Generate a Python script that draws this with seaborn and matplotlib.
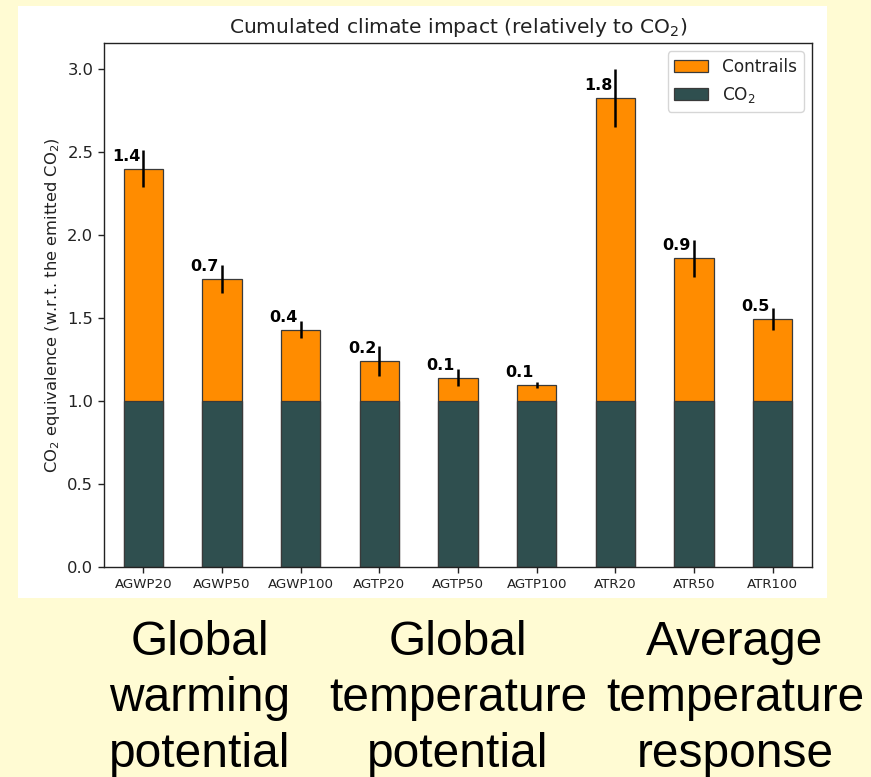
import matplotlib
matplotlib.use("Agg")
import matplotlib.pyplot as plt
from matplotlib.patches import Rectangle, Patch
import numpy as np
import seaborn as sns

# Metrics and their contrail contributions (CO2 is the unit reference)
categories = ["AGWP20", "AGWP50", "AGWP100", "AGTP20", "AGTP50",
              "AGTP100", "ATR20", "ATR50", "ATR100"]
co2_values = [1.0, 1.0, 1.0, 1.0, 1.0, 1.0, 1.0, 1.0, 1.0]
contrail_values = [1.40, 0.735, 0.43, 0.24, 0.14, 0.096, 1.825, 0.86, 0.494]
contrail_errors = [0.11, 0.085, 0.05, 0.09, 0.05, 0.02, 0.175, 0.11, 0.065]

group_centers = [200, 458, 735]
group_lines = [["Global", "warming", "potential"],
               ["Global", "temperature", "potential"],
               ["Average", "temperature", "response"]]

W, H = 871, 777
fig = plt.figure(figsize=(W / 100, H / 100), dpi=100, facecolor="#FFFBD3")

# white panel holding the chart, kept behind the axes
fig.patches.append(Rectangle((18 / W, 1 - 598 / H), 809 / W, 592 / H,
                             transform=fig.transFigure, facecolor="white",
                             edgecolor="none", zorder=-10))

ax = fig.add_axes([104 / W, 1 - 567 / H, 708 / W, 524 / H])
ax.set_zorder(1)
ax.set_facecolor("white")

totals = np.array(co2_values) + np.array(contrail_values)
orange = "#FF8C00"
slate = "#2F4F4F"
edge = "#3a3a3a"

sns.barplot(x=categories, y=totals, color=orange, saturation=1, width=0.5,
            edgecolor=edge, linewidth=0.9, ax=ax)
sns.barplot(x=categories, y=co2_values, color=slate, saturation=1, width=0.5,
            edgecolor=edge, linewidth=0.9, ax=ax)

xpos = np.arange(len(categories))
ax.errorbar(xpos, totals, yerr=contrail_errors, fmt="none", ecolor="black",
            elinewidth=1.8, capsize=0, zorder=5)

for x, tot, val in zip(xpos, totals, contrail_values):
    ax.text(x - 0.04, tot + 0.03, f"{val:.1f}", ha="right", va="bottom",
            fontweight="bold", fontsize=11.5, color="black")

ax.set_xlim(-0.5, len(categories) - 0.5)
ax.set_ylim(0, 3.157)
ax.set_yticks([0.0, 0.5, 1.0, 1.5, 2.0, 2.5, 3.0])
ax.tick_params(axis="y", labelsize=11.8, length=4.2, width=1, colors="#222222")
ax.tick_params(axis="x", labelsize=9.6, length=4.2, width=1, colors="#222222")
for s in ax.spines.values():
    s.set_linewidth(1)
    s.set_color("#222222")
ax.set_xlabel("")
ax.set_ylabel(r"CO$_2$ equivalence (w.r.t. the emitted CO$_2$)", fontsize=11.8,
              color="#222222")
ax.set_title(r"Cumulated climate impact (relatively to CO$_2$)", fontsize=14.6,
             pad=7, color="#222222")

handles = [Patch(facecolor=orange, edgecolor=edge, linewidth=0.9, label="Contrails"),
           Patch(facecolor=slate, edgecolor=edge, linewidth=0.9, label=r"CO$_2$")]
leg = ax.legend(handles=handles, loc="upper right", fontsize=12.2)
for t in leg.get_texts():
    t.set_color("#222222")

baselines = [655, 711, 767]
for cx, lines in zip(group_centers, group_lines):
    for yb, line in zip(baselines, lines):
        fig.text(cx / W, 1 - yb / H, line, ha="center", va="baseline",
                 fontsize=34.5, family="Liberation Sans", color="black")

fig.savefig("out.png", dpi=100, facecolor=fig.get_facecolor())
